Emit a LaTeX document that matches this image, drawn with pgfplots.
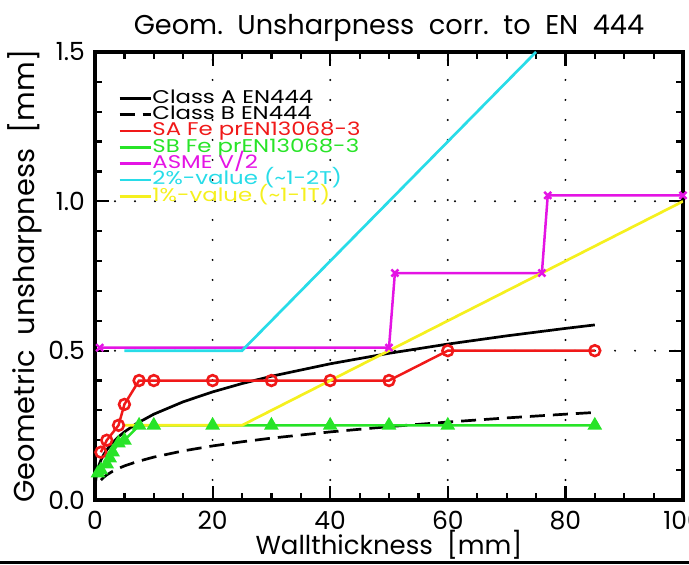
\documentclass[border=0pt]{standalone}
\usepackage{pgfplots}
\pgfplotsset{compat=1.18}
\usepackage{fontspec}
\setmainfont{Poppins}
\newfontfamily\legendfont[FakeStretch=1.24]{Poppins}
\definecolor{sared}{RGB}{240,25,25}
\definecolor{sbgreen}{RGB}{40,228,40}
\definecolor{asme}{RGB}{228,20,228}
\definecolor{cyanv}{RGB}{40,220,232}
\definecolor{yellowv}{RGB}{245,240,30}
\begin{document}
\begin{tikzpicture}
\begin{axis}[
  scale only axis, width=294pt, height=224pt,
  xmin=0, xmax=100, ymin=0, ymax=1.5,
  xtick={0,20,...,100}, ytick={0,0.5,1,1.5},
  yticklabels={0.0,0.5,1.0,1.5},
  minor x tick num=3, minor y tick num=4,
  tick align=inside,
  major tick length=7pt, minor tick length=3.5pt,
  every tick/.style={black, line width=1.1pt},
  axis line style={line width=1.6pt},
  grid=major,
  major grid style={black, line width=1.1pt, line cap=round, dash pattern=on 0pt off 10pt},
  /pgf/number format/assume math mode=true,
  ticklabel style={font=\fontsize{12.5}{14}\selectfont},
  xticklabel style={yshift=-2pt},
  yticklabel style={xshift=-1.5pt},
  title={Geom.\ \ Unsharpness\ \ corr.\ \ to\ \ EN\ \ 444},
  title style={at={(axis description cs:0.5,1)}, anchor=center, yshift=6pt, font=\fontsize{13.6}{15}\selectfont},
  xlabel={Wallthickness\ \ [mm]},
  xlabel style={at={(axis description cs:0.5,0)}, anchor=center, yshift=-22.5pt, font=\fontsize{13}{15}\selectfont},
  ylabel={Geometric\ \ unsharpness\ \ [mm]},
  ylabel style={at={(axis description cs:-0.119,0.5)}, anchor=center, font=\fontsize{14.4}{16}\selectfont},
  legend style={at={(axis description cs:0,1)}, anchor=north west, xshift=11.5pt, yshift=-19pt,
    draw=none, fill=none, inner sep=0pt, row sep=0pt,
    font=\legendfont\fontsize{9.2}{9}\selectfont,
    nodes={inner sep=0pt, text height=6.5pt, text depth=1.65pt}},
  legend cell align=left,
  legend image code/.code={\draw[#1] (0cm,0cm) -- (0.55cm,0cm);},
]
\addplot[black, line width=1.35pt] coordinates {
(0.1,0.0619)(0.3,0.0893)(0.6,0.1125)(1,0.1333)(1.5,0.1526)(2,0.1680)(3,0.1923)(4,0.2117)(5,0.2280)(7,0.2551)(10,0.2873)(15,0.3288)(20,0.3619)(25,0.3899)(30,0.4143)(40,0.4560)(50,0.4912)(60,0.5220)(70,0.5495)(80,0.5745)(85,0.5862)};
\addlegendentry{Class A EN444}
\addplot[black, line width=1.35pt, dash pattern=on 7.5pt off 4pt] coordinates {
(1,0.0667)(1.5,0.0763)(2,0.0840)(3,0.0961)(4,0.1058)(5,0.1140)(7,0.1275)(10,0.1436)(15,0.1644)(20,0.1810)(25,0.1949)(30,0.2071)(40,0.2280)(50,0.2456)(60,0.2610)(70,0.2748)(80,0.2873)(85,0.2931)};
\addlegendentry{Class B EN444}
\addplot[sared, line width=1.25pt, mark=o, mark size=2.7pt, mark options={line width=1.3pt, fill=none}] coordinates {
(1,0.16)(2,0.20)(4,0.25)(5,0.32)(7.5,0.40)(10,0.40)(20,0.40)(30,0.40)(40,0.40)(50,0.40)(60,0.50)(85,0.50)};
\addlegendentry{\textcolor{sared}{SA Fe prEN13068-3}}
\addplot[sbgreen, line width=1.25pt, mark=triangle*, mark size=3pt, mark options={solid}] coordinates {
(0.5,0.09)(1,0.10)(2,0.12)(2.5,0.14)(3,0.16)(4,0.19)(5,0.20)(7.5,0.25)(10,0.25)(20,0.25)(30,0.25)(40,0.25)(50,0.25)(60,0.25)(85,0.25)};
\addlegendentry{\textcolor{sbgreen}{SB Fe prEN13068-3}}
\addplot[asme, line width=1.25pt, mark=x, mark size=2.5pt, mark options={line width=1.2pt}] coordinates {
(0.8,0.51)(50,0.51)(51,0.76)(76,0.76)(77,1.02)(100,1.02)};
\addlegendentry{\textcolor{asme}{ASME V/2}}
\addplot[cyanv, line width=1.35pt] coordinates {(5,0.50)(25,0.50)(75,1.50)};
\addlegendentry{\textcolor{cyanv}{2\%-value (\textasciitilde1-2T)}}
\addplot[yellowv, line width=1.35pt] coordinates {(5,0.25)(25,0.25)(100,1.00)};
\addlegendentry{\textcolor{yellowv}{1\%-value (\textasciitilde1-1T)}}
\coordinate (bl) at (rel axis cs:0,0);
\end{axis}
\draw[line width=1.5pt] (bl) ++(-47.5pt,-31.5pt) -- ++(344.5pt,0pt);
\pgfresetboundingbox
\path[use as bounding box] (bl) ++(-47.5pt,-32.5pt) rectangle ++(344.5pt,282.5pt);
\end{tikzpicture}
\end{document}
